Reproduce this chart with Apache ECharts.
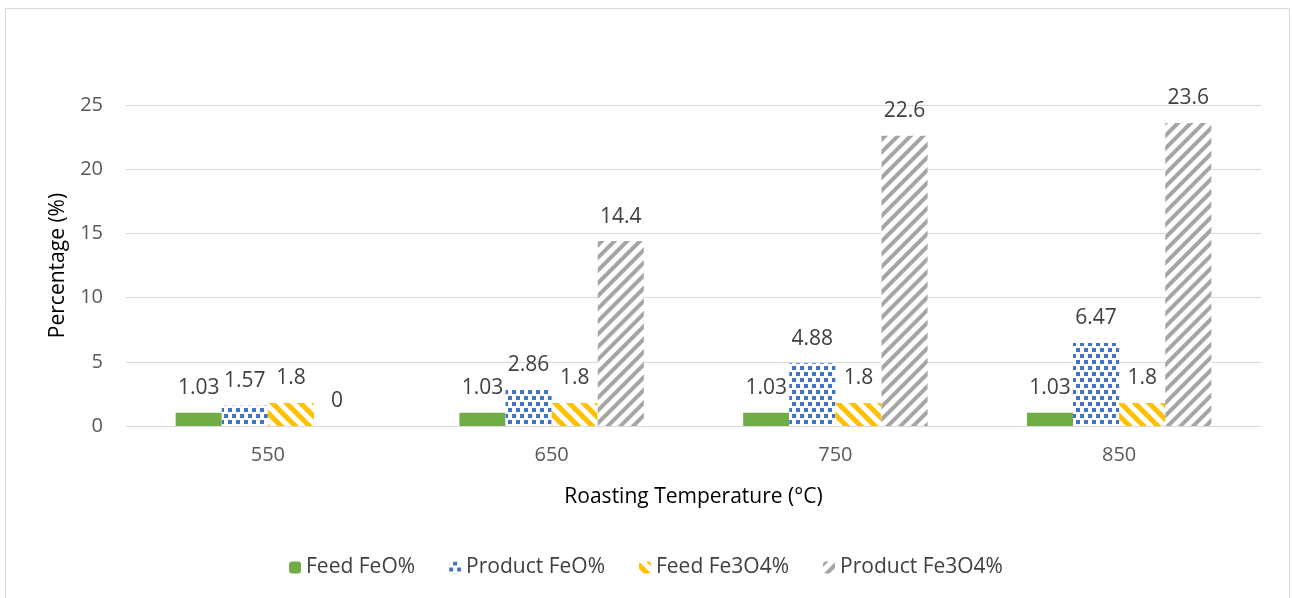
<!DOCTYPE html>
<html>
<head>
<meta charset="utf-8">
<script src="https://cdn.jsdelivr.net/npm/echarts@6/dist/echarts.min.js"></script>
<style>
  html, body { margin: 0; padding: 0; background: #fff; }
  #chart { width: 1292px; height: 598px; }
</style>
</head>
<body>
<div id="chart"></div>
<script>
// Roasting temperatures (categories)
const temperatures = ['550', '650', '750', '850'];
// Series values (%)
const feedFeO = [1.03, 1.03, 1.03, 1.03];
const productFeO = [1.57, 2.86, 4.88, 6.47];
const feedFe3O4 = [1.8, 1.8, 1.8, 1.8];
const productFe3O4 = [0, 14.4, 22.6, 23.6];

const FONT = '"Open Sans", "Noto Sans", sans-serif';
const TEXT = '#404040';

const chart = echarts.init(document.getElementById('chart'), null, { renderer: 'canvas' });

const labelCfg = {
  show: true,
  position: 'top',
  distance: 14,
  color: TEXT,
  fontSize: 21,
  fontFamily: FONT
};

function barSeries(name, data, itemStyle) {
  return {
    name: name,
    type: 'bar',
    data: data,
    barGap: '0%',
    barCategoryGap: '35%',
    itemStyle: itemStyle,
    label: labelCfg
  };
}

chart.setOption({
  animation: false,
  backgroundColor: '#fff',
  graphic: [{
    type: 'rect',
    shape: { x: 5.5, y: 8.5, width: 1284, height: 600 },
    style: { fill: 'none', stroke: '#d9d9d9', lineWidth: 1 },
    silent: true
  }],
  grid: { left: 126, right: 31, top: 105, bottom: 172 },
  legend: {
    top: 552,
    left: 'center',
    itemWidth: 12,
    itemHeight: 12,
    itemGap: 34,
    textStyle: { color: TEXT, fontSize: 21, fontFamily: FONT },
    data: ['Feed FeO%', 'Product FeO%', 'Feed Fe3O4%', 'Product Fe3O4%']
  },
  xAxis: {
    type: 'category',
    data: temperatures,
    name: 'Roasting Temperature (°C)',
    nameLocation: 'middle',
    nameGap: 61,
    nameTextStyle: { color: '#000', fontSize: 21, fontFamily: FONT },
    axisLine: { lineStyle: { color: '#d9d9d9' } },
    axisTick: { show: false },
    axisLabel: { color: '#595959', fontSize: 20, fontFamily: FONT, margin: 19 }
  },
  yAxis: {
    type: 'value',
    min: 0,
    max: 25,
    interval: 5,
    name: 'Percentage (%)',
    nameLocation: 'middle',
    nameGap: 57,
    nameTextStyle: { color: '#000', fontSize: 21, fontFamily: FONT },
    axisLine: { show: false },
    axisTick: { show: false },
    splitLine: { lineStyle: { color: '#d9d9d9' } },
    axisLabel: { color: '#595959', fontSize: 20, fontFamily: FONT, margin: 23 }
  },
  series: [
    barSeries('Feed FeO%', feedFeO, { color: '#70ad47' }),
    barSeries('Product FeO%', productFeO, {
      color: '#ffffff',
      decal: {
        symbol: 'rect',
        symbolSize: 1,
        color: '#4472c4',
        dashArrayX: [[4, 4], [0, 4, 4, 0]],
        dashArrayY: [4, 1.5],
        rotation: 0
      }
    }),
    barSeries('Feed Fe3O4%', feedFe3O4, {
      color: '#ffffff',
      decal: {
        symbol: 'rect',
        symbolSize: 1,
        color: '#ffc000',
        dashArrayX: [1, 0],
        dashArrayY: [5, 5],
        rotation: Math.PI / 4
      }
    }),
    barSeries('Product Fe3O4%', productFe3O4, {
      color: '#ffffff',
      decal: {
        symbol: 'rect',
        symbolSize: 1,
        color: '#a5a5a5',
        dashArrayX: [1, 0],
        dashArrayY: [3.5, 4.5],
        rotation: -Math.PI / 4
      }
    })
  ]
});
</script>
</body>
</html>
